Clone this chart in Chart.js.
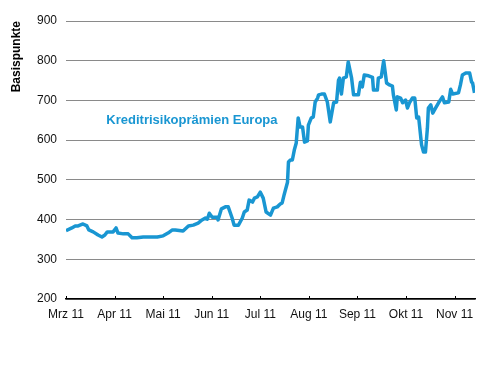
<!DOCTYPE html>
<html>
<head>
<meta charset="utf-8">
<script src="https://cdn.jsdelivr.net/npm/chart.js@4/dist/chart.umd.min.js"></script>
<style>
  html, body { margin: 0; padding: 0; background: #fff; }
  #wrap { width: 492px; height: 368px; }
</style>
</head>
<body>
<div id="wrap"><canvas id="chart" width="492" height="368"></canvas></div>
<script>
// month tick labels (one tick per month start)
const monthLabels = ['Mrz 11', 'Apr 11', 'Mai 11', 'Jun 11', 'Jul 11', 'Aug 11', 'Sep 11', 'Okt 11', 'Nov 11'];

// position in months since 1 Mar 2011
const monthPos = [
  0.00, 0.12, 0.19, 0.25, 0.35, 0.43, 0.47, 0.56, 0.66, 0.74, 0.80, 0.85, 0.97,
  1.03, 1.07, 1.18, 1.28, 1.36, 1.46, 1.59, 1.73, 1.88,
  2.00, 2.10, 2.19, 2.25, 2.41, 2.52, 2.62, 2.72, 2.80, 2.87, 2.91, 2.95,
  3.01, 3.11, 3.13, 3.20, 3.28, 3.34, 3.42, 3.46, 3.55, 3.63, 3.67, 3.73, 3.77, 3.84, 3.88, 3.94,
  4.00, 4.06, 4.12, 4.21, 4.27, 4.35, 4.41, 4.45, 4.49, 4.56, 4.58, 4.62, 4.66, 4.70, 4.74, 4.78, 4.82, 4.87, 4.91, 4.97, 4.99,
  5.05, 5.09, 5.13, 5.18, 5.20, 5.26, 5.32, 5.38, 5.44, 5.51, 5.57, 5.61, 5.63, 5.67, 5.71, 5.77, 5.81, 5.88, 5.92,
  6.02, 6.06, 6.10, 6.14, 6.23, 6.31, 6.33, 6.41, 6.43, 6.49, 6.54, 6.60, 6.66, 6.72, 6.74, 6.80, 6.82, 6.89, 6.93, 6.99,
  7.03, 7.07, 7.13, 7.18, 7.22, 7.26, 7.32, 7.36, 7.40, 7.44, 7.46, 7.51, 7.55, 7.61, 7.67, 7.75, 7.79, 7.88, 7.92, 7.96,
  8.08, 8.12, 8.16, 8.23, 8.31, 8.35, 8.37, 8.41
];

// Kreditrisikoprämien Europa, Basispunkte
const spread = [
  372, 379, 384, 384, 389, 384, 374, 369, 361, 356, 361, 369, 369,
  379, 366, 364, 364, 354, 354, 356, 356, 356,
  359, 366, 374, 374, 371, 384, 386, 391, 399, 404, 401, 416,
  406, 406, 399, 427, 432, 432, 404, 386, 386, 404, 419, 424, 449, 444, 454, 457,
  469, 454, 419, 411, 429, 432, 439, 442, 462, 494, 545, 550, 550, 575, 593, 656, 633, 633, 595, 598, 638,
  656, 658, 696, 706, 714, 716, 716, 696, 646, 694, 696, 751, 756, 716, 756, 759, 797, 756, 714,
  714, 746, 734, 764, 762, 758, 726, 726, 756, 759, 800, 744, 739, 736, 714, 676, 709, 706, 694, 701,
  681, 694, 706, 706, 656, 658, 588, 570, 570, 630, 681, 689, 668, 681, 694, 709, 694, 696, 728, 716,
  719, 739, 764, 769, 769, 746, 744, 719
];

const yTicks = [200, 300, 400, 500, 600, 700, 800, 900];
const seriesName = 'Kreditrisikoprämien Europa';

const BLUE = '#1996d2';
const FONT = '"Liberation Sans", Arial, sans-serif';

// inward tick marks on the x axis + in-chart series label
const decorPlugin = {
  id: 'decor',
  afterDraw(chart) {
    const { ctx, scales: { x, y } } = chart;
    ctx.save();
    ctx.strokeStyle = '#000';
    ctx.lineWidth = 1;
    x.ticks.forEach(t => {
      const px = Math.round(x.getPixelForValue(t.value)) + 0.5;
      ctx.beginPath();
      ctx.moveTo(px, y.bottom);
      ctx.lineTo(px, y.bottom - 3);
      ctx.stroke();
    });
    ctx.fillStyle = BLUE;
    ctx.font = 'bold 13px ' + FONT;
    ctx.textBaseline = 'middle';
    ctx.fillText(seriesName, x.getPixelForValue(0.83), y.getPixelForValue(650));
    ctx.restore();
  }
};

new Chart(document.getElementById('chart'), {
  type: 'line',
  data: {
    datasets: [{
      label: seriesName,
      data: monthPos.map((m, i) => ({ x: m, y: spread[i] })),
      borderColor: BLUE,
      borderWidth: 3.5,
      borderJoinStyle: 'round',
      pointRadius: 0,
      tension: 0,
      fill: false
    }]
  },
  options: {
    responsive: false,
    animation: false,
    layout: { padding: { top: 21, right: 17, left: 0, bottom: 0 } },
    plugins: { legend: { display: false }, tooltip: { enabled: false } },
    scales: {
      x: {
        type: 'linear',
        min: 0,
        max: 8.42,
        afterBuildTicks: s => { s.ticks = monthLabels.map((_, i) => ({ value: i })); },
        afterFit: s => { s.height = 69; },
        grid: { drawOnChartArea: false, drawTicks: false },
        border: { display: true, color: '#000', width: 1.5 },
        ticks: {
          padding: 8,
          maxRotation: 0,
          autoSkip: false,
          color: '#111',
          font: { family: FONT, size: 12 },
          callback: v => monthLabels[v]
        }
      },
      y: {
        min: 200,
        max: 900,
        afterBuildTicks: s => { s.ticks = yTicks.map(v => ({ value: v })); },
        afterFit: s => { s.width = 66; },
        grid: { color: '#8a8a8a', lineWidth: 1, drawTicks: false },
        border: { display: false },
        ticks: {
          padding: 9,
          color: '#111',
          font: { family: FONT, size: 12 }
        },
        title: {
          display: true,
          text: 'Basispunkte',
          align: 'end',
          color: '#000',
          font: { family: FONT, size: 12, weight: 'bold' },
          padding: { top: 9, bottom: 0 }
        }
      }
    }
  },
  plugins: [decorPlugin]
});
</script>
</body>
</html>
